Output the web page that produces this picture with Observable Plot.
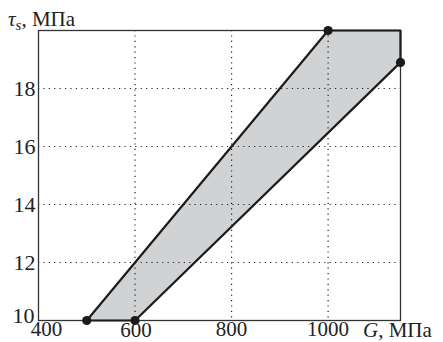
<!DOCTYPE html>
<html>
<head>
<meta charset="utf-8">
<script src="https://cdn.jsdelivr.net/npm/d3@7"></script>
<script src="https://cdn.jsdelivr.net/npm/@observablehq/plot@0.6"></script>
<style>
  html, body { margin: 0; padding: 0; background: #fff; }
  svg, svg text { font-family: "Liberation Serif", "DejaVu Serif", "Times New Roman", Times, serif !important; }
</style>
</head>
<body>
<div id="chart"></div>
<script>
// Region boundary (G, MPa ; tau_s, MPa)
const polyG = [500, 1000, 1150, 1150, 600, 500];
const polyTau = [10, 20, 20, 18.9, 10, 10];
// Marked vertices
const dotG = [500, 600, 1000, 1150];
const dotTau = [10, 10, 20, 18.9];
// Grid / ticks
const xGrid = [600, 800, 1000];
const yGrid = [12, 14, 16, 18];
const xTicks = [400, 600, 800, 1000];
const yTicks = [10, 12, 14, 16, 18];

const poly = polyG.map((g, i) => ({g, t: polyTau[i]}));
const dots = dotG.map((g, i) => ({g, t: dotTau[i]}));

const common = {fontSize: 22, fill: "#222"};
const commonX = {fontSize: 21, fill: "#222"};
const plot = Plot.plot({
  width: 443,
  height: 342,
  marginLeft: 38,
  marginRight: 43,
  marginTop: 30,
  marginBottom: 22,
  x: {domain: [400, 1150], axis: null},
  y: {domain: [10, 20], axis: null},
  style: "background: #fff; overflow: visible;",
  marks: [
    Plot.line(poly, {x: "g", y: "t", fill: "#d1d2d4", stroke: "none"}),
    Plot.ruleX(xGrid, {stroke: "#222", strokeWidth: 1.2, strokeDasharray: "1.2,4.2"}),
    Plot.ruleY(yGrid, {stroke: "#222", strokeWidth: 1.2, strokeDasharray: "1.2,4.2"}),
    Plot.frame({stroke: "#333", strokeWidth: 1.3}),
    Plot.line(poly, {x: "g", y: "t", stroke: "#1c1c1c", strokeWidth: 2.2, strokeLinejoin: "miter"}),
    Plot.dot(dots, {x: "g", y: "t", r: 4.6, fill: "#1a1a1a", stroke: "none"}),
    // y tick labels
    Plot.text(yTicks.filter(d => d !== 10), {x: () => 400, y: d => d, text: d => String(d), textAnchor: "end", dx: -3, ...common}),
    Plot.text(yTicks.filter(d => d === 10), {x: () => 400, y: d => d, text: d => String(d), textAnchor: "end", lineAnchor: "bottom", dx: -4, dy: 2, ...common}),
    // x tick labels
    Plot.text(xTicks.filter(d => d !== 400 && d !== 600), {x: d => d, y: () => 10, text: d => String(d), lineAnchor: "top", dy: 1, ...commonX}),
    Plot.text(xTicks.filter(d => d === 400), {x: d => d, y: () => 10, text: d => String(d), lineAnchor: "top", dx: 8, dy: 1, ...commonX}),
    Plot.text(xTicks.filter(d => d === 600), {x: d => d, y: () => 10, text: d => String(d), lineAnchor: "top", dx: 1, dy: 2, ...commonX})
  ]
});

const svg = d3.select(plot);
const sx = plot.scale("x"), sy = plot.scale("y");

// y axis label: τ_s, МПа
const yl = svg.append("text")
  .attr("x", sx.apply(400) - 30)
  .attr("y", sy.apply(20) - 4)
  .attr("text-anchor", "start")
  .attr("font-size", 21)
  .attr("fill", "#222");
yl.append("tspan").attr("font-style", "italic").text("τ");
yl.append("tspan").attr("font-style", "italic").attr("font-size", 15).attr("dy", 4).text("s");
yl.append("tspan").attr("dy", -4).text(", МПа");

// x axis label: G, МПа
const xl = svg.append("text")
  .attr("x", sx.apply(1150) - 37)
  .attr("y", sy.apply(10) + 17)
  .attr("text-anchor", "start")
  .attr("font-size", 21)
  .attr("fill", "#222");
xl.append("tspan").attr("font-style", "italic").text("G");
xl.append("tspan").text(", МПа");

document.getElementById("chart").appendChild(plot);
</script>
</body>
</html>
